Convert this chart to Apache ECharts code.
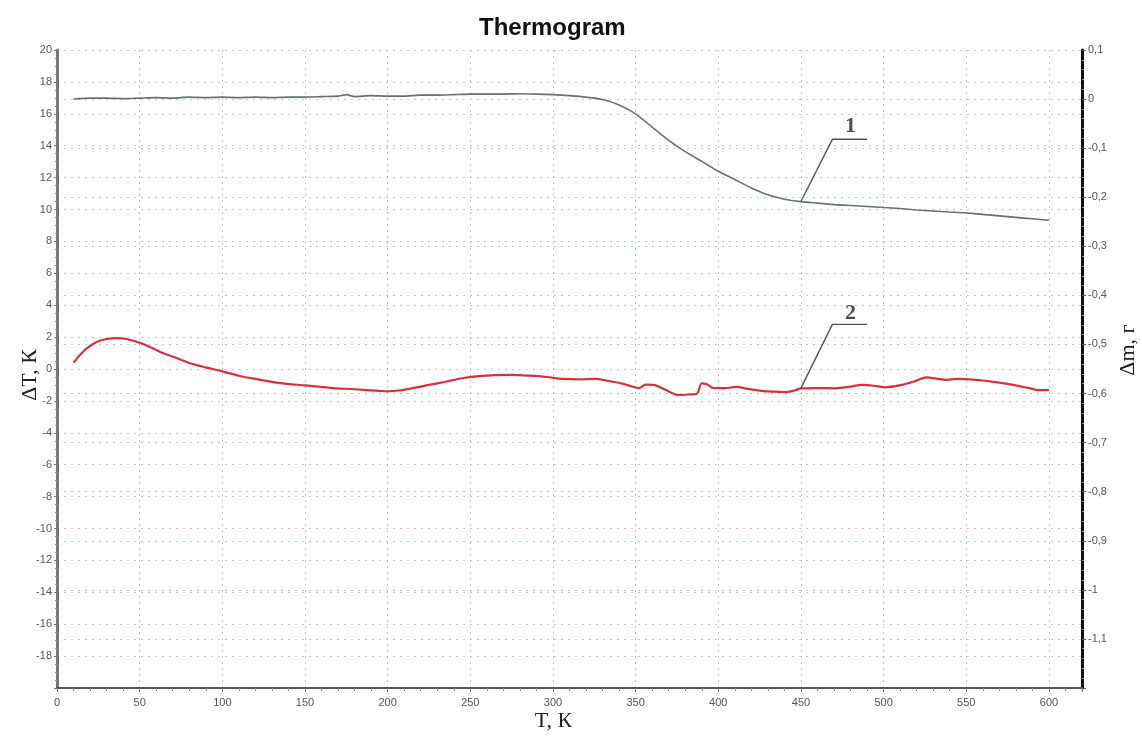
<!DOCTYPE html>
<html>
<head>
<meta charset="utf-8">
<title>Thermogram</title>
<script src="https://cdn.jsdelivr.net/npm/echarts@6/dist/echarts.min.js"></script>
<style>
  html, body { margin: 0; padding: 0; background: #fff; }
  #chart { width: 1142px; height: 740px; }
</style>
</head>
<body>
<div id="chart"></div>
<script>
// кривая 1 - потеря массы (правая ось, г)
var massT = [10, 20, 30, 40, 50, 60, 70, 80, 90, 100, 110, 120, 130, 140, 150, 160, 170, 175, 180, 190,
  200, 210, 220, 230, 240, 250, 260, 270, 280, 290, 300, 310, 320, 330, 340, 350, 360, 370, 380, 390,
  400, 410, 420, 430, 440, 450, 460, 470, 480, 490, 500, 510, 520, 530, 540, 550, 560, 570, 580, 590, 600];
var massVal = [0.000, 0.002, 0.002, 0.001, 0.002, 0.003, 0.002, 0.004, 0.003, 0.004, 0.003, 0.004, 0.003, 0.004, 0.004, 0.005, 0.006, 0.009, 0.005, 0.007,
  0.006, 0.006, 0.008, 0.008, 0.009, 0.010, 0.010, 0.010, 0.011, 0.010, 0.009, 0.007, 0.004, -0.001, -0.012, -0.030, -0.057, -0.084, -0.107, -0.127,
  -0.147, -0.164, -0.181, -0.195, -0.204, -0.209, -0.212, -0.215, -0.217, -0.219, -0.221, -0.223, -0.226, -0.228, -0.230, -0.232, -0.235, -0.238, -0.241, -0.244, -0.247];

// кривая 2 - дельта T (левая ось, К)
var dtaT = [10, 14, 18, 24, 30, 36, 42, 50, 57, 64, 72, 80, 90, 100, 110, 120, 135, 150, 165, 180,
  195, 200, 207, 215, 225, 235, 245, 255, 265, 275, 286, 296, 306, 316, 326, 335, 342, 348, 352, 356,
  361, 368, 376, 382, 387, 390, 393, 397, 404, 411, 418, 425, 433, 441, 446, 450, 460, 471, 480, 487,
  494, 501, 511, 518, 526, 532, 538, 545, 552, 560, 566, 574, 582, 588, 594, 600];
var dtaVal = [0.4, 0.9, 1.3, 1.7, 1.88, 1.93, 1.88, 1.65, 1.35, 1.0, 0.7, 0.38, 0.1, -0.15, -0.42, -0.62, -0.88, -1.03, -1.18, -1.27,
  -1.37, -1.4, -1.35, -1.2, -1.0, -0.8, -0.58, -0.45, -0.38, -0.37, -0.42, -0.5, -0.62, -0.65, -0.62, -0.78, -0.92, -1.1, -1.2, -0.98,
  -1.0, -1.3, -1.63, -1.6, -1.55, -0.9, -0.95, -1.2, -1.2, -1.12, -1.25, -1.35, -1.42, -1.45, -1.35, -1.22, -1.2, -1.21, -1.1, -1.0,
  -1.05, -1.15, -1.0, -0.8, -0.52, -0.6, -0.68, -0.62, -0.65, -0.72, -0.8, -0.92, -1.07, -1.2, -1.32, -1.32];

// выноски с номерами кривых (в единицах левой оси)
var leader1 = [[450, 10.5], [469, 14.4], [490, 14.4]];
var leader2 = [[450, -1.2], [469, 2.8], [490, 2.8]];
var marks = [[480, 15.2, '1'], [480, 3.5, '2']];

var myChart = echarts.init(document.getElementById('chart'));

function pairs(xs, ys) {
  return xs.map(function (x, i) { return [x, ys[i]]; });
}

var serif = '"Liberation Serif", "DejaVu Serif", serif';
var sans = '"Liberation Sans", Arial, sans-serif';

myChart.setOption({
  backgroundColor: '#fff',
  animation: false,
  title: {
    text: 'Thermogram',
    left: 474,
    top: 11,
    textStyle: { fontFamily: sans, fontSize: 24, fontWeight: 'bold', color: '#111' }
  },
  grid: { left: 57, right: 60, top: 50, bottom: 52, containLabel: false, outerBoundsMode: 'none' },
  xAxis: {
    type: 'value',
    min: 0,
    max: 620,
    interval: 50,
    name: 'T, К',
    nameLocation: 'middle',
    nameGap: 22,
    nameMoveOverlap: false,
    nameTextStyle: { fontFamily: serif, fontSize: 22, color: '#222', padding: [0, 32, 0, 0] },
    axisLine: { onZero: false, lineStyle: { color: '#555', width: 2 } },
    axisTick: { show: true, length: 4, lineStyle: { color: '#777' } },
    minorTick: { show: true, splitNumber: 5, length: 3, lineStyle: { color: '#888' } },
    axisLabel: {
      fontFamily: sans, fontSize: 11, color: '#555', margin: 9,
      formatter: function (v) { return v % 50 === 0 ? String(v) : ''; }
    },
    splitLine: { show: true, lineStyle: { color: '#c4c4c4', type: [2, 4] } }
  },
  yAxis: [
    {
      type: 'value',
      min: -20,
      max: 20,
      interval: 2,
      position: 'left',
      name: 'ΔT, К',
      nameLocation: 'middle',
      nameRotate: 90,
      nameGap: 16,
      nameMoveOverlap: false,
      nameTextStyle: { fontFamily: serif, fontSize: 22, color: '#222', padding: [0, 12, 0, 0] },
      axisLine: { show: true, onZero: false, lineStyle: { color: '#777', width: 3 } },
      axisTick: { show: true, length: 3, lineStyle: { color: '#777' } },
      minorTick: { show: true, splitNumber: 4, length: 2, lineStyle: { color: '#999' } },
      axisLabel: {
        fontFamily: sans, fontSize: 11, color: '#555', margin: 5,
        formatter: function (v) { return v === -20 ? '' : String(v); }
      },
      splitLine: { show: true, lineStyle: { color: '#d6c6c6', type: [2, 5], width: 1.2 } }
    },
    {
      type: 'value',
      min: -1.2,
      max: 0.1,
      interval: 0.1,
      position: 'right',
      name: 'Δm, г',
      nameLocation: 'middle',
      nameRotate: 90,
      nameGap: 35,
      nameMoveOverlap: false,
      nameTextStyle: { fontFamily: serif, fontSize: 22, color: '#222', padding: [0, 0, 0, 38] },
      axisLine: { show: true, onZero: false, lineStyle: { color: '#111', width: 3 } },
      axisTick: { show: true, length: 4, lineStyle: { color: '#555' } },
      minorTick: { show: true, splitNumber: 5, length: 2, lineStyle: { color: '#999' } },
      axisLabel: {
        fontFamily: sans, fontSize: 11, color: '#555', margin: 6,
        formatter: function (v) {
          if (v < -1.15) return '';
          return String(+v.toFixed(1)).replace('.', ',');
        }
      },
      splitLine: { show: true, lineStyle: { color: '#9fd9d2', type: [2, 5], width: 1.2 } }
    }
  ],
  series: [
    {
      name: '1',
      type: 'line',
      yAxisIndex: 1,
      data: pairs(massT, massVal),
      showSymbol: false,
      smooth: 0.2,
      lineStyle: { color: '#6a6f70', width: 1.6 }
    },
    {
      name: '2',
      type: 'line',
      yAxisIndex: 0,
      data: pairs(dtaT, dtaVal),
      showSymbol: false,
      smooth: 0.3,
      lineStyle: { color: '#d7323b', width: 2.2 }
    },
    {
      type: 'line',
      yAxisIndex: 0,
      data: leader1,
      showSymbol: false,
      silent: true,
      lineStyle: { color: '#555', width: 1.4 }
    },
    {
      type: 'line',
      yAxisIndex: 0,
      data: leader2,
      showSymbol: false,
      silent: true,
      lineStyle: { color: '#555', width: 1.4 }
    },
    {
      type: 'scatter',
      yAxisIndex: 0,
      data: marks,
      symbolSize: 0,
      silent: true,
      label: {
        show: true,
        position: 'inside',
        formatter: function (p) { return p.data[2]; },
        fontFamily: serif,
        fontSize: 22,
        fontWeight: 'bold',
        color: '#222'
      }
    }
  ]
});
</script>
</body>
</html>
